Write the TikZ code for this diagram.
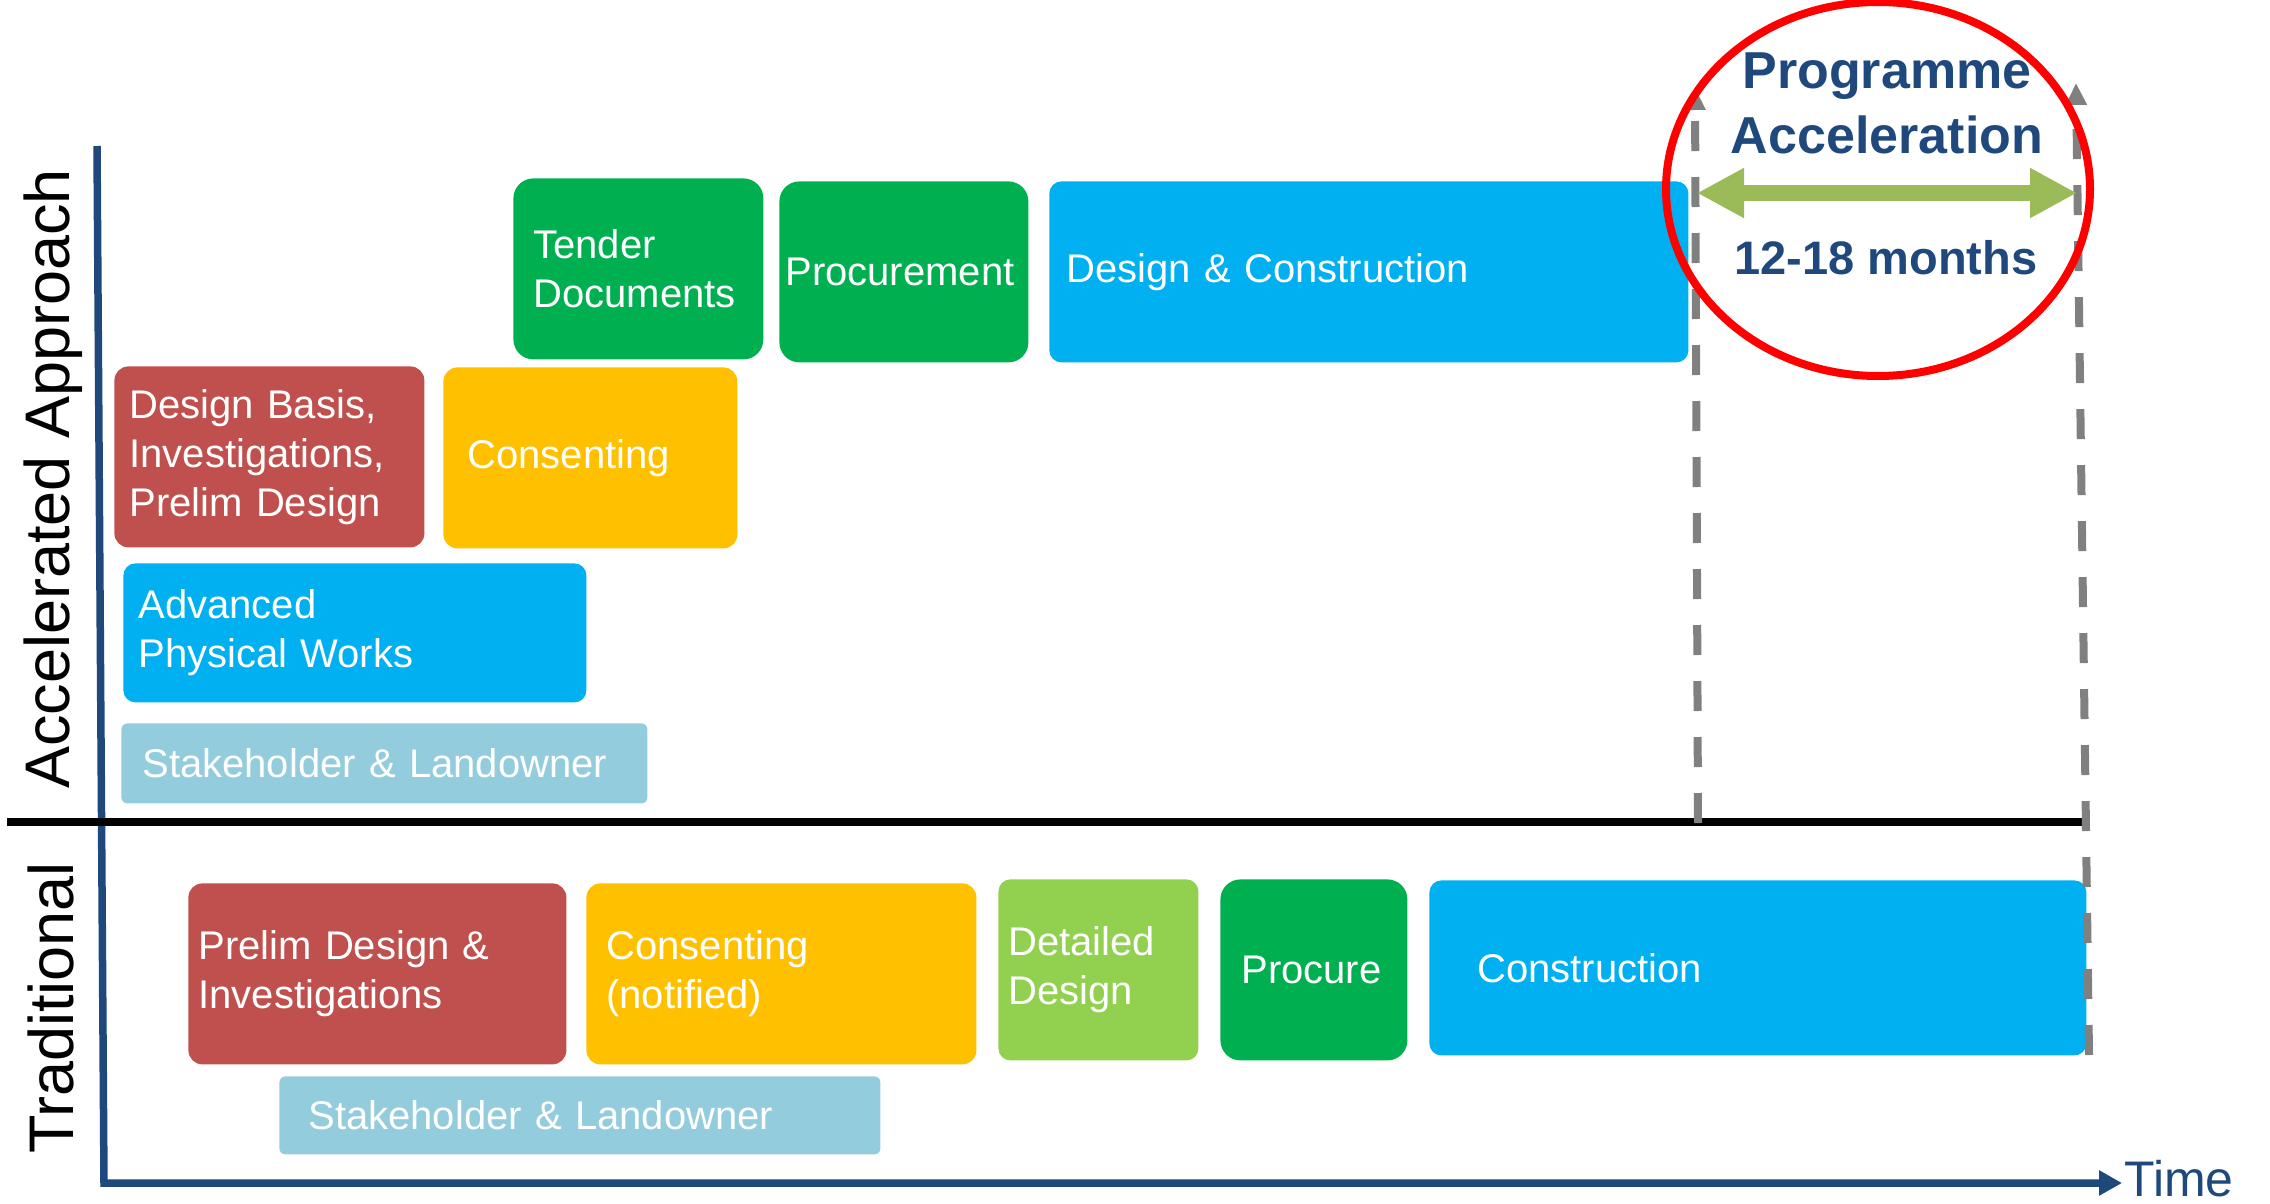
\documentclass[tikz,border=0pt]{standalone}
\usepackage{fontspec}
\setmainfont{Liberation Sans}
\usepackage{tikz}
\usetikzlibrary{arrows.meta,
                positioning}
\definecolor{cRed}{HTML}{C0504D}
\definecolor{cOrange}{HTML}{FFC000}
\definecolor{cGreen}{HTML}{00B050}
\definecolor{cLime}{HTML}{92D050}
\definecolor{cBlue}{HTML}{00B0F0}
\definecolor{cSky}{HTML}{93CDDD}
\definecolor{cNavy}{HTML}{1F497D}
\definecolor{cGray}{HTML}{808080}
\definecolor{cOlive}{HTML}{9BBB59}

\begin{document}
\begin{tikzpicture}[x=0.5pt, y=-0.5pt,
    BX/.style = {anchor=north west, inner ysep=0pt, align=left,
                 text=white, rounded corners=6pt,
                 font=\fontsize{20}{24.5}\selectfont},
    CR/.style = {fill=cRed},    %fill  Color Red
    CO/.style = {fill=cOrange}, %fill  Color Orange
    CG/.style = {fill=cGreen, rounded corners=10pt}, %fill  Color Green
    CL/.style = {fill=cLime},   %fill  Color Lime
    CB/.style = {fill=cBlue},   %fill  Color Blue
    CS/.style = {fill=cSky, rounded corners=3pt},    %fill  Color Sky
    AX/.style = {draw=cNavy, line width=3.75pt, line join=miter},
   DSH/.style = {draw=cGray, line width=4pt, dash pattern=on 15pt off 13pt,
                 -{Triangle[length=11pt, width=10pt]}},
   TTL/.style = {text=cNavy, anchor=base, inner sep=0pt,
                 font=\bfseries\fontsize{26}{32.5}\selectfont},
   SDE/.style = {rotate=90, anchor=base, inner sep=0pt,
                 font=\fontsize{31.5}{36}\selectfont}
                        ]
\useasboundingbox (0,0) rectangle (2270,1204);
% accelerated approach
\node[BX, CG, minimum width=125pt, minimum height=90.5pt, inner xsep=10pt, text width=105pt]
      (tender) at (513,178) {Tender\\Documents};
\node[BX, CG, minimum width=124.5pt, minimum height=90.5pt, inner xsep=3pt, text width=118.5pt]
      (procm) at (779,181) {Procurement};
\node[BX, CB, minimum width=319.5pt, minimum height=90.5pt, inner xsep=8.5pt, text width=302.5pt]
      (dc) at (1049,181) {Design \& Construction};
\node[BX, CR, rounded corners=7pt, minimum width=155pt, minimum height=90.5pt, inner xsep=7.5pt, text width=140pt]
      (dbasis) at (114,366) {Design Basis,\\Investigations,\\Prelim Design};
\node[BX, CO, rounded corners=7pt, minimum width=147pt, minimum height=90.5pt, inner xsep=12pt, text width=123pt]
      (consa) at (443,367) {Consenting};
\node[BX, CB, minimum width=231.5pt, minimum height=69.5pt, inner xsep=7.5pt, text width=216.5pt]
      (apw) at (123,563) {Advanced\\Physical Works};
\node[BX, CS, minimum width=263pt, minimum height=40pt, inner xsep=10.5pt, text width=242pt]
      (stka) at (121,723) {Stakeholder \& Landowner};
% traditional
\node[BX, CR, rounded corners=7pt, minimum width=189pt, minimum height=90.5pt, inner xsep=5pt, text width=179pt]
      (prelim) at (188,883) {Prelim Design \&\\Investigations};
\node[BX, CO, rounded corners=7pt, minimum width=195pt, minimum height=90.5pt, inner xsep=10pt, text width=175pt]
      (const) at (586,883) {Consenting\\(notified)};
\node[BX, CL, minimum width=100pt, minimum height=90.5pt, inner xsep=5pt, text width=90pt]
      (detd) at (998,879) {Detailed\\Design};
\node[BX, CG, minimum width=93.5pt, minimum height=90.5pt, inner xsep=10.5pt, text width=72.5pt]
      (proct) at (1220,879) {Procure};
\node[BX, CB, minimum width=328.5pt, minimum height=87.5pt, inner xsep=24pt, text width=280.5pt]
      (constr) at (1429,880) {Construction};
\node[BX, CS, minimum width=300.5pt, minimum height=39pt, inner xsep=14.5pt, text width=271.5pt]
      (stkt) at (279,1076) {Stakeholder \& Landowner};
% axes and side labels
\coordinate (ytop) at (97,146);
\coordinate (org)  at (104,1183);
\coordinate (xend) at (2122,1183);
\draw[AX, -{Triangle[length=11.5pt, width=12pt]}] (ytop) -- (org) -- (xend);
\node[right=1pt of xend, yshift=2pt, inner sep=0pt, text=cNavy, font=\fontsize{25}{30}\selectfont]
      (time) {Time};
\coordinate (sepl) at (7,822);
\coordinate (sepr) at (2083,822);
\draw[line width=4pt] (sepl) -- (sepr);
\node[SDE] (accl) at (69,479) {Accelerated Approach};
\node[SDE] (trad) at (73,1008) {Traditional};
% programme acceleration
\coordinate (lb) at (1698,823);
\coordinate (lt) at (1695,88);
\coordinate (rb) at (2089,1055);
\coordinate (rt) at (2076,83);
\draw[DSH] (lb) -- (lt);
\draw[DSH] (rb) -- (rt);
\coordinate (ga1) at (1697,193);
\coordinate (ga2) at (2077,193);
\draw[cOlive, line width=8pt,
      {Triangle[length=23.5pt, width=23.5pt]}-{Triangle[length=23.5pt, width=23.5pt]}]
      (ga1) -- (ga2);
\node[TTL] (prog)  at (1887,89)  {Programme};
\node[TTL] (accel) at (1887,154) {Acceleration};
\node[TTL, font=\bfseries\fontsize{23.5}{28}\selectfont] (months) at (1886,274) {12-18 months};
\draw[red, line width=4pt] (1878,189) ellipse [x radius=106pt, y radius=93.5pt];
\end{tikzpicture}
\end{document}
